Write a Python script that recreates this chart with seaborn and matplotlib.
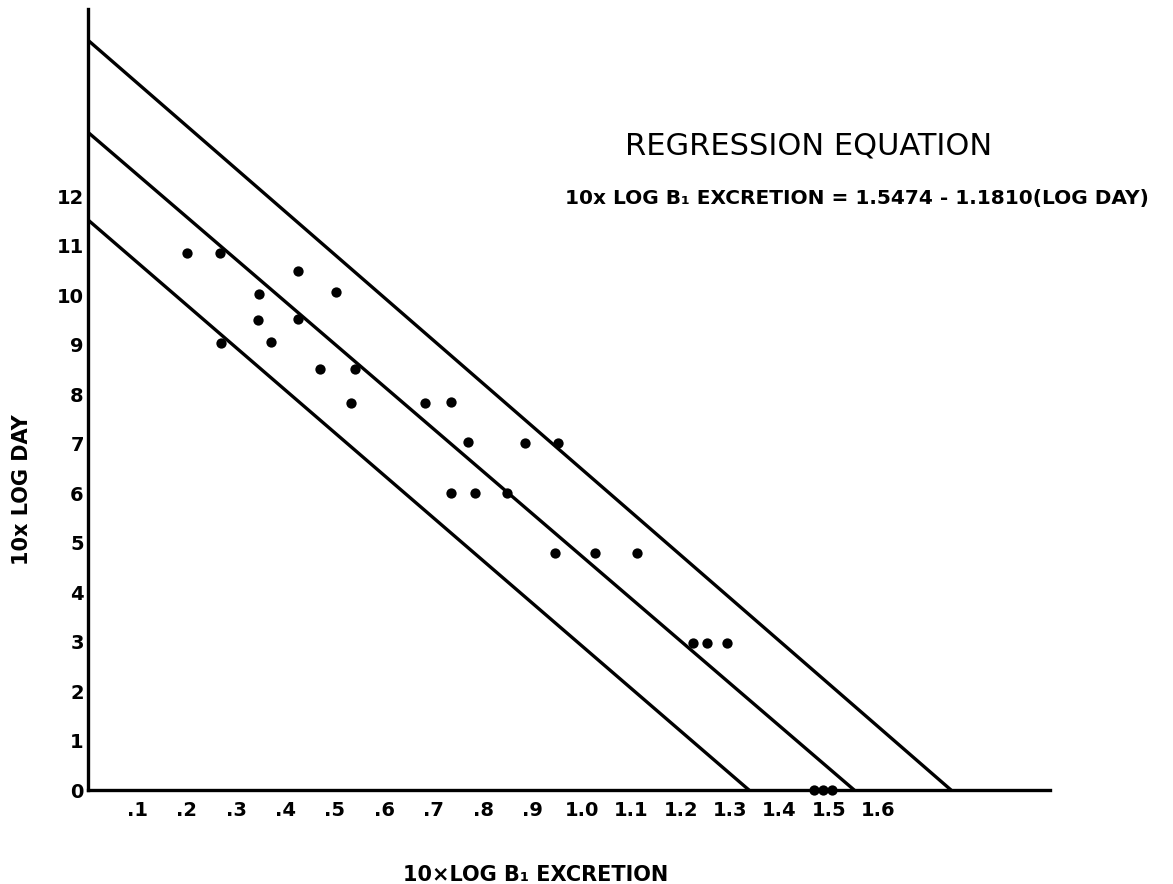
import pandas as pd
import matplotlib.pyplot as plt
import seaborn as sns

# observed points: 10 x log B1 excretion vs 10 x log day
excretion = [0.200, 0.267, 0.425, 0.502, 0.346, 0.344, 0.425, 0.269, 0.370,
             0.470, 0.540, 0.532, 0.682, 0.735, 0.769, 0.885, 0.951,
             0.735, 0.783, 0.848, 0.945, 1.026, 1.111,
             1.225, 1.253, 1.293, 1.470, 1.488, 1.506]
log_day = [10.85, 10.85, 10.48, 10.06, 10.02, 9.49, 9.51, 9.03, 9.05,
           8.50, 8.50, 7.82, 7.82, 7.84, 7.03, 7.01, 7.01,
           6.00, 6.00, 6.00, 4.79, 4.79, 4.79,
           2.97, 2.97, 2.97, 0.0, 0.0, 0.0]

# regression line and its two limits (where each meets the axes)
band = ['lower', 'regression', 'upper']
y_intercepts = [11.52, 13.29, 15.15]
x_intercepts = [1.338, 1.551, 1.747]

x_ticks = [0.1, 0.2, 0.3, 0.4, 0.5, 0.6, 0.7, 0.8, 0.9, 1.0,
           1.1, 1.2, 1.3, 1.4, 1.5, 1.6]
x_tick_labels = ['.1', '.2', '.3', '.4', '.5', '.6', '.7', '.8', '.9',
                 '1.0', '1.1', '1.2', '1.3', '1.4', '1.5', '1.6']
y_ticks = list(range(0, 13))

points = pd.DataFrame({'x': excretion, 'y': log_day})
lines = pd.DataFrame({
    'band': band * 2,
    'x': [0.0] * 3 + x_intercepts,
    'y': y_intercepts + [0.0] * 3,
})

sns.set_style('white')
plt.rcParams['font.family'] = ['DejaVu Sans']
plt.rcParams['text.color'] = 'black'
plt.rcParams['axes.labelcolor'] = 'black'
plt.rcParams['xtick.color'] = 'black'
plt.rcParams['ytick.color'] = 'black'

fig = plt.figure(figsize=(11.73, 8.84), dpi=100)
ax = fig.add_axes([0.075, 0.1063, 0.820, 0.8835])

sns.lineplot(data=lines, x='x', y='y', units='band', estimator=None,
             color='black', linewidth=2.4, sort=False, ax=ax)
sns.scatterplot(data=points, x='x', y='y', color='black', s=55,
                edgecolor='black', linewidth=0, ax=ax, clip_on=False, zorder=5)

ax.set_xlim(0, 1.947)
ax.set_ylim(0, 15.78)

ax.set_xticks(x_ticks)
ax.set_xticklabels(x_tick_labels, fontsize=14, fontweight='bold')
ax.set_yticks(y_ticks)
ax.set_yticklabels([str(v) for v in y_ticks], fontsize=14, fontweight='bold')
ax.tick_params(axis='x', length=0, pad=8)
ax.tick_params(axis='y', length=0, pad=3)

for side in ['top', 'right']:
    ax.spines[side].set_visible(False)
for side in ['left', 'bottom']:
    ax.spines[side].set_linewidth(2.4)
    ax.spines[side].set_color('black')

ax.set_xlabel('10×LOG B₁ EXCRETION', fontsize=15, fontweight='bold')
ax.xaxis.set_label_coords(0.465, -0.0965)
ax.set_ylabel('10x LOG DAY', fontsize=15, fontweight='bold')
ax.yaxis.set_label_coords(-0.058, 0.384)

ax.text(0.749, 0.825, 'REGRESSION EQUATION', transform=ax.transAxes,
        fontsize=22, ha='center', va='center')
ax.text(0.496, 0.758, '10x LOG B₁ EXCRETION = 1.5474 - 1.1810(LOG DAY)',
        transform=ax.transAxes, fontsize=14.5, fontweight='bold',
        ha='left', va='center')

fig.savefig('out.png', dpi=100)
